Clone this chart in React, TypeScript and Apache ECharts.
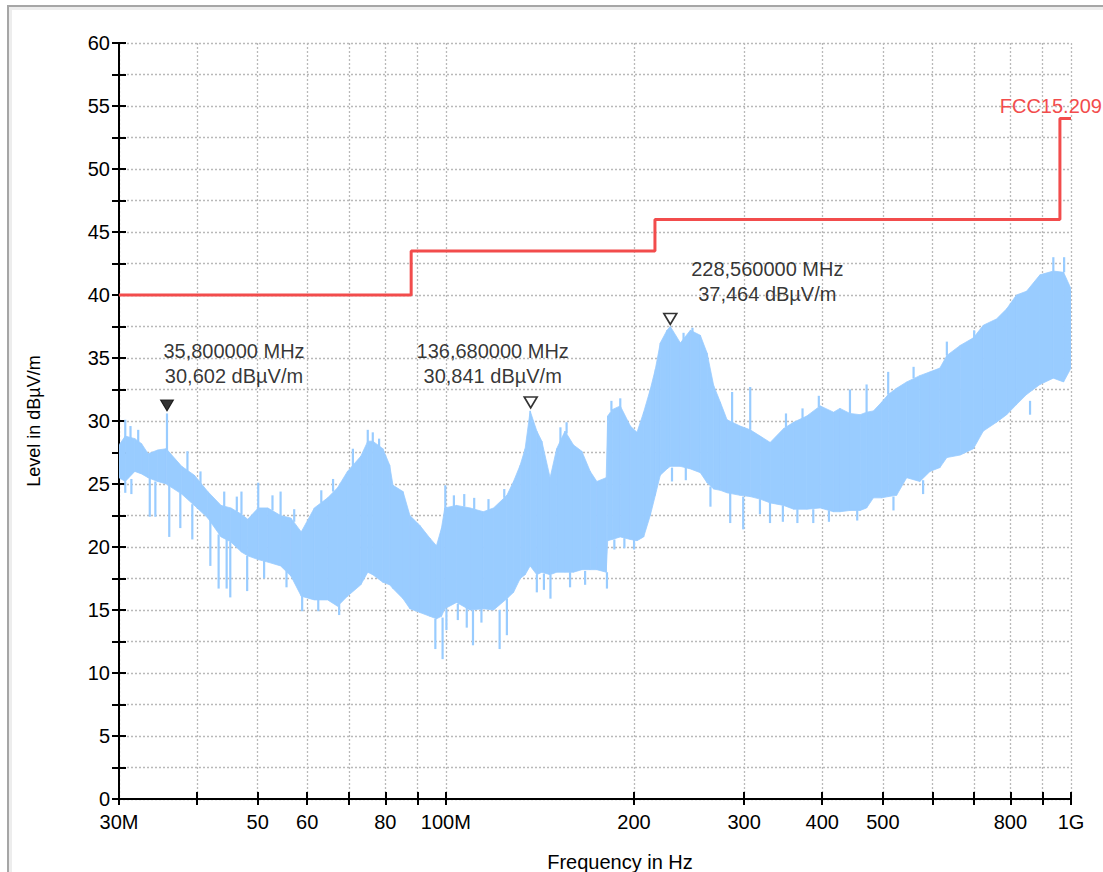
import React, { useEffect, useRef } from 'react';
import * as echarts from 'echarts';

// Trace envelope (frequency in MHz, level in dBµV/m)
const traceFreqMHz = [
  30.0, 30.7, 31.8, 32.6, 33.4, 34.6, 35.7, 37.8, 39.6, 41.6, 43.7, 45.3, 47.1, 48.2, 50.1, 51.9, 54.4, 56.5, 58.7,
  61.6, 64.7, 67.1, 69.6, 73.1, 75.0, 76.4, 79.3, 81.3, 82.3, 85.4, 87.6, 90.9, 94.3, 96.6, 98.4, 99.6, 104.0,
  109.3, 114.8, 119.2, 125.2, 128.3, 131.5, 133.9, 136.4, 139.8, 142.4, 146.8, 150.4, 155.1, 160.0, 165.0, 170.2,
  174.4, 180.5, 181.5, 184.5, 190.1, 197.3, 202.2, 207.2, 212.3, 216.3, 220.3, 225.8, 228.6, 237.2, 246.1, 255.3,
  261.7, 268.2, 274.8, 281.7, 295.6, 306.8, 318.3, 330.2, 347, 360, 378, 397, 417, 427, 443, 460, 471, 483, 498,
  510, 526, 546, 573, 595, 617, 633, 665, 698, 724, 760, 789, 818, 849, 892, 937, 973, 1000,
];
const traceUpper = [
  28.1, 28.8, 28.6, 28.2, 27.4, 27.7, 27.8, 26.4, 25.7, 24.4, 23.3, 23.1, 22.6, 22.2, 23.1, 23.1, 22.5, 22.3, 21.2,
  23.1, 23.9, 24.7, 26.0, 27.2, 28.4, 28.4, 27.8, 26.5, 24.9, 24.4, 22.5, 21.7, 20.7, 20.1, 21.5, 23.1, 23.3,
  23.1, 22.8, 23.1, 24.1, 25.2, 26.5, 27.8, 30.8, 29.2, 28.4, 25.5, 27.8, 29.2, 28.1, 27.6, 26.0,
  25.2, 25.5, 30.4, 30.9, 31.2, 29.6, 29.1, 30.7, 32.5, 34.1, 36.2, 37.2, 37.5, 36.2, 37.2, 36.8,
  35.4, 32.8, 31.5, 30.1, 29.6, 29.3, 28.8, 28.3, 29.4, 29.9, 30.4, 31.2, 30.7, 31.0, 30.6, 30.5, 30.7, 30.8, 31.5,
  32.1, 32.6, 33.1, 33.6, 33.9, 34.2, 35.2, 36.0, 36.6, 37.6, 38.1, 38.9, 40.0, 40.3, 41.6, 41.9, 41.8, 40.5,
];
const traceLower = [
  25.5, 25.2, 26.0, 25.8, 25.5, 25.2, 25.0, 24.2, 23.3, 22.3, 20.8, 20.4, 19.6, 19.3, 19.0, 18.8, 18.5, 17.7, 16.1,
  15.8, 15.8, 15.3, 16.1, 17.0, 18.0, 17.8, 17.2, 17.0, 16.7, 15.9, 15.1, 14.8, 14.5, 14.3, 14.5, 15.1, 15.6,
  15.0, 15.1, 15.0, 15.9, 16.4, 17.5, 17.8, 18.5, 17.8, 18.0, 17.8, 18.0, 18.0, 18.0, 18.2, 18.2,
  18.2, 18.0, 20.5, 20.6, 20.8, 20.6, 20.5, 20.8, 22.5, 24.1, 25.7, 26.2, 26.4, 26.4, 26.2, 25.9,
  25.1, 24.6, 24.5, 24.3, 24.1, 24.0, 23.8, 23.5, 23.3, 23.0, 23.0, 23.1, 22.8, 22.8, 22.9, 22.9, 23.1, 23.9, 23.9,
  24.0, 24.1, 25.5, 25.2, 26.0, 26.3, 27.1, 27.3, 27.8, 29.2, 29.9, 30.5, 31.3, 32.1, 32.9, 33.4, 33.1, 34.2,
];

// Isolated spikes of the trace: frequency, level where the spike leaves the band, spike tip level
const spikeFreqMHz = [
  30.7, 31.3, 32.2, 35.8, 38.6, 40.5, 44.2, 46.3, 47.1, 50.1, 52.8, 54.4, 57.2, 63.2, 66.0, 71.0, 75.0, 76.4,
  78.2, 99.8, 103, 107, 111, 117, 124, 152.5, 156, 184, 190.1, 240, 248, 287, 306.8, 350, 372, 395, 443, 471,
  510, 560, 633, 700, 860, 937, 975,
  30.7, 31.4, 33.6, 34.3, 36.1, 37.6, 39.3, 42.0, 43.3, 44.6, 45.2, 48.1, 51.2, 55.6, 58.9, 62.5, 67.5, 96.2,
  98.8, 100.2, 104.5, 108, 110.5, 114, 121.9, 125.2, 139.8, 143.5, 147, 158, 167, 181, 186, 193, 200, 230,
  242, 265, 285, 299, 318, 330, 346, 365, 387, 410, 455, 520, 580,
];
const spikeFrom = [
  28.5, 28.4, 28.2, 27.6, 26.0, 25.0, 23.2, 22.8, 22.6, 22.8, 22.9, 22.5, 22.0, 23.5, 24.4, 26.4, 28.2, 28.2,
  27.9, 23.0, 23.2, 23.2, 23.0, 22.9, 23.9, 28.0, 29.0, 30.8, 31.0, 36.3, 36.9, 29.8, 29.3, 29.5, 30.2, 31.1, 30.6, 30.7,
  32.1, 33.4, 35.2, 36.5, 30.5, 41.9, 41.8,
  25.2, 25.4, 25.5, 25.2, 25.0, 24.3, 23.4, 22.2, 21.0, 20.6, 20.4, 19.3, 18.9, 18.1, 16.1, 15.8, 15.5, 14.3,
  14.4, 15.1, 15.5, 15.2, 15.0, 15.1, 15.0, 15.9, 17.8, 17.9, 17.8, 18.0, 18.1, 18.0, 20.6, 20.7, 20.6, 26.3,
  26.4, 24.8, 24.3, 24.0, 23.8, 23.5, 23.3, 23.0, 23.0, 22.9, 22.9, 24.0, 25.3,
];
const spikeTo = [
  30.1, 29.6, 29.3, 30.6, 27.6, 26.0, 24.4, 24.0, 24.4, 25.1, 24.1, 24.4, 23.0, 24.5, 25.4, 27.8, 29.3, 29.1,
  28.6, 24.9, 24.1, 24.2, 23.9, 23.8, 24.6, 29.5, 29.9, 31.6, 31.8, 37.0, 37.4, 32.3, 32.7, 30.6, 31.0, 32.0, 32.5, 32.9,
  33.9, 34.3, 36.3, 37.2, 31.6, 43.0, 43.0,
  24.3, 24.2, 22.4, 22.4, 20.8, 21.5, 20.6, 18.5, 16.7, 16.7, 16.0, 16.5, 17.5, 16.8, 14.9, 14.9, 14.6, 11.9,
  11.1, 13.4, 14.2, 13.6, 12.2, 14.0, 11.9, 13.0, 16.4, 16.6, 15.9, 16.8, 17.0, 16.7, 19.8, 19.9, 19.8, 25.2,
  25.3, 23.2, 21.9, 21.4, 22.6, 21.9, 22.0, 21.9, 21.9, 22.0, 22.1, 22.9, 24.2,
];

// FCC 15.209 limit
const limitName = 'FCC15.209';
const limitFreqMHz = [30, 88, 88, 216, 216, 960, 960, 1000];
const limitLevel = [40, 40, 43.5, 43.5, 46, 46, 54, 54];

// Markers
const markerFreqMHz = [35.8, 136.68, 228.56];
const markerLevel = [30.602, 30.841, 37.464];
const markerFilled = [true, false, false];

// Axis ticks
const xTickFreqs = [30, 40, 50, 60, 70, 80, 90, 100, 200, 300, 400, 500, 600, 700, 800, 900, 1000];
const xLabelFreqs = [30, 50, 60, 80, 100, 200, 300, 400, 500, 800, 1000];
const xLabelTexts = ['30M', '50', '60', '80', '100M', '200', '300', '400', '500', '800', '1G'];
const yMin = 0;
const yMax = 60;
const yStep = 2.5;
const yLabelStep = 5;

const FONT = '"Liberation Sans", Arial, sans-serif';
const BLUE = '#99ccff';
const RED = '#f24c4c';
const GRID = '#b9b9b9';

// label placement relative to each marker (pixels)
const annotOffsets = [[67, -50], [-38, -47], [97, -45]];

export default function App() {
  const ref = useRef<HTMLDivElement>(null);
  useEffect(() => {
    const chart = echarts.init(ref.current as HTMLDivElement, null, { renderer: 'svg' });
    const lg = (f: number) => Math.log10(f);
    const xMin = lg(30);
    const xMax = lg(1000);

    const bandData: number[][] = [];
    for (let i = 0; i < traceFreqMHz.length - 1; i++) {
      bandData.push([
        lg(traceFreqMHz[i]), traceLower[i], traceUpper[i],
        lg(traceFreqMHz[i + 1]), traceLower[i + 1], traceUpper[i + 1],
      ]);
    }
    const spikeData = spikeFreqMHz.map((f, i) => [lg(f), spikeFrom[i], spikeTo[i]]);
    const limitData = limitFreqMHz.map((f, i) => [lg(f), limitLevel[i]]);
    const fmt = (v: number, d: number) => v.toFixed(d).replace('.', ',');

    const tickStyle = { color: '#000', width: 2 };
    const xTickVals = xTickFreqs.map(lg);

    const option: any = {
      animation: false,
      backgroundColor: '#fff',
      textStyle: { fontFamily: FONT },
      grid: { left: 119, right: 32, top: 43, bottom: 73, containLabel: false, outerBoundsMode: 'none' },
      xAxis: [
        {
          type: 'value', min: xMin, max: xMax, position: 'bottom',
          axisLine: { show: true, onZero: false, lineStyle: { color: '#000', width: 2 } },
          axisTick: { show: true, inside: false, length: 6, lineStyle: tickStyle, customValues: xTickVals },
          axisLabel: {
            show: true, customValues: xLabelFreqs.map(lg), margin: 13, fontSize: 20, color: '#000', fontFamily: FONT,
            formatter: (v: number) => {
              const i = xLabelFreqs.findIndex((f) => Math.abs(lg(f) - v) < 1e-6);
              return i >= 0 ? xLabelTexts[i] : '';
            },
          },
          splitLine: { show: true, lineStyle: { color: GRID, type: [2, 2], width: 1.3 } },
          name: 'Frequency in Hz', nameLocation: 'middle', nameGap: 53,
          nameTextStyle: { fontSize: 20, color: '#000', fontFamily: FONT, padding: [0, 0, 0, 50] },
        },
        {
          type: 'value', min: xMin, max: xMax, position: 'bottom',
          axisLine: { show: false, onZero: false },
          axisTick: { show: true, inside: true, length: 7, lineStyle: tickStyle, customValues: xTickVals },
          axisLabel: { show: false },
          splitLine: { show: false },
        },
      ],
      yAxis: [
        {
          type: 'value', min: yMin, max: yMax, interval: yStep, position: 'left',
          axisLine: { show: true, onZero: false, lineStyle: { color: '#000', width: 2 } },
          axisTick: { show: true, inside: false, length: 7, lineStyle: tickStyle },
          axisLabel: {
            margin: 9, fontSize: 20, color: '#000', fontFamily: FONT,
            formatter: (v: number) => (Math.abs(v % yLabelStep) < 1e-9 ? String(v) : ''),
          },
          splitLine: { show: true, lineStyle: { color: GRID, type: [2, 2], width: 1.3 } },
          name: 'Level in dBµV/m', nameLocation: 'middle', nameGap: 76,
          nameTextStyle: { fontSize: 18, color: '#000', fontFamily: FONT },
        },
        {
          type: 'value', min: yMin, max: yMax, interval: yStep, position: 'left',
          axisLine: { show: false, onZero: false },
          axisTick: { show: true, inside: true, length: 7, lineStyle: tickStyle },
          axisLabel: { show: false },
          splitLine: { show: false },
        },
      ],
      graphic: [
        { type: 'rect', silent: true, z: -10, shape: { x: 10.5, y: 8.5, width: 1300, height: 1000 }, style: { fill: 'none', stroke: '#ededed', lineWidth: 3 } },
        { type: 'rect', silent: true, z: -9, shape: { x: 8, y: 6, width: 1300, height: 1000 }, style: { fill: 'none', stroke: '#a6a6a6', lineWidth: 2 } },
        { type: 'text', x: 1102, y: 106, z: 10, style: { text: limitName, fill: RED, fontSize: 20, fontFamily: FONT, align: 'right', verticalAlign: 'middle' } },
      ],
      series: [
        {
          type: 'custom', name: 'trace', xAxisIndex: 0, yAxisIndex: 0, silent: true, z: 2, clip: true,
          encode: { x: [0, 3], y: [1, 2, 4, 5] },
          data: bandData,
          renderItem: (_p: any, api: any) => {
            const a = api.coord([api.value(0), api.value(1)]);
            const b = api.coord([api.value(0), api.value(2)]);
            const c = api.coord([api.value(3), api.value(5)]);
            const d = api.coord([api.value(3), api.value(4)]);
            return { type: 'polygon', shape: { points: [a, b, c, d] }, style: { fill: BLUE, stroke: BLUE, lineWidth: 0.8 } };
          },
        },
        {
          type: 'custom', name: 'spikes', xAxisIndex: 0, yAxisIndex: 0, silent: true, z: 2, clip: true,
          encode: { x: 0, y: [1, 2] },
          data: spikeData,
          renderItem: (_p: any, api: any) => {
            const a = api.coord([api.value(0), api.value(1)]);
            const b = api.coord([api.value(0), api.value(2)]);
            return { type: 'line', shape: { x1: a[0], y1: a[1], x2: b[0], y2: b[1] }, style: { stroke: BLUE, lineWidth: 2.2 } };
          },
        },
        {
          type: 'line', name: limitName, xAxisIndex: 0, yAxisIndex: 0, data: limitData, showSymbol: false, symbol: 'none',
          lineStyle: { color: RED, width: 3 }, z: 4, silent: true,
        },
        {
          type: 'scatter', name: 'markers', xAxisIndex: 0, yAxisIndex: 0, z: 5, silent: true,
          symbol: 'triangle', symbolRotate: 180, symbolSize: [13, 11], symbolOffset: [0, -8],
          data: markerFreqMHz.map((f, i) => ({
            value: [lg(f), markerLevel[i]],
            itemStyle: markerFilled[i]
              ? { color: '#000', borderColor: '#000', borderWidth: 1 }
              : { color: '#fff', borderColor: '#000', borderWidth: 1.6 },
          })),
        },
        {
          type: 'scatter', name: 'marker labels', xAxisIndex: 0, yAxisIndex: 0, z: 6, silent: true,
          symbol: 'circle', symbolSize: 0, itemStyle: { color: 'transparent' },
          data: markerFreqMHz.map((f, i) => ({
            value: [lg(f), markerLevel[i]],
            label: {
              show: true, position: 'inside', offset: annotOffsets[i],
              formatter: `${fmt(f, 6)} MHz\n${fmt(markerLevel[i], 3)} dBµV/m`,
              fontSize: 20, lineHeight: 25, color: '#000', fontFamily: FONT, align: 'center', verticalAlign: 'middle',
            },
          })),
        },
      ],
    };
    chart.setOption(option);
    return () => chart.dispose();
  }, []);
  return <div ref={ref} style={{ position: 'absolute', left: 0, top: 0, width: 1103, height: 872 }} />;
}
